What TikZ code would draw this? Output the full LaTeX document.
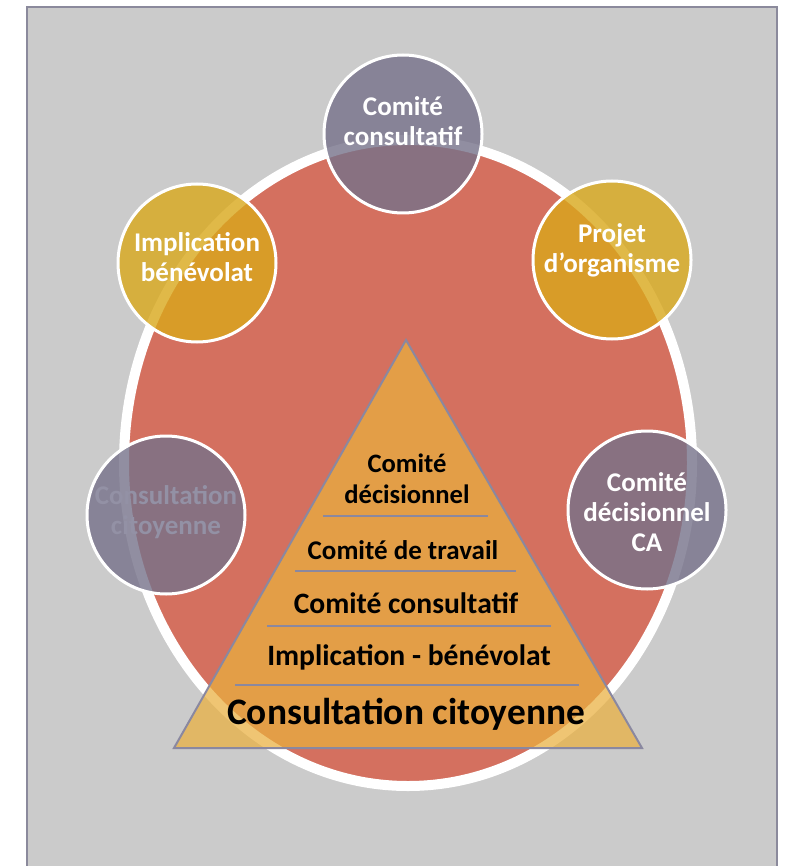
\documentclass[tikz,border=0pt]{standalone}
\usepackage{fontspec}
\setmainfont{Carlito}
\definecolor{bggray}{HTML}{CBCBCB}
\definecolor{boxline}{HTML}{8B8A9C}
\definecolor{ellred}{HTML}{D4705F}
\definecolor{triorange}{HTML}{EAB03E}
\definecolor{triline}{HTML}{8A88A0}
\definecolor{circpurple}{HTML}{76728A}
\definecolor{circyellow}{HTML}{D9A81B}
\definecolor{fainttext}{HTML}{9391A5}
\begin{document}
\begin{tikzpicture}[x=1pt,y=-1pt,
  circ/.style={circle, minimum size=158pt, inner sep=0pt, draw=white, line width=3pt, fill opacity=0.8},
  ctext/.style={align=center, text=white, font=\fontsize{27}{30}\selectfont\bfseries, inner sep=0pt},
  ttext/.style={align=center, text=black, inner sep=0pt},
  sepline/.style={draw=triline, line width=2pt}
]
\useasboundingbox (0,0) rectangle (787,866);
% background box
\fill[white] (0,0) rectangle (787,866);
\draw[fill=bggray, draw=boxline, line width=2pt] (27,7) -- (27,870) -- (777,870) -- (777,7) -- cycle;
% big ellipse
\draw[fill=ellred, draw=white, line width=10pt] (408,463) ellipse [x radius=284, y radius=323];
% pyramid
\coordinate (tl) at (174,748);
\coordinate (ta) at (406,340);
\coordinate (tr) at (642,748);
\draw[fill=triorange, fill opacity=0.72, draw=triline, line width=2pt, line join=miter] (tl) -- (ta) -- (tr) -- cycle;
\coordinate (s1a) at (323,516); \coordinate (s1b) at (488,516);
\coordinate (s2a) at (295,571); \coordinate (s2b) at (516,571);
\coordinate (s3a) at (267,626); \coordinate (s3b) at (551,626);
\coordinate (s4a) at (235,685); \coordinate (s4b) at (579,685);
\draw[sepline] (s1a) -- (s1b);
\draw[sepline] (s2a) -- (s2b);
\draw[sepline] (s3a) -- (s3b);
\draw[sepline] (s4a) -- (s4b);
\node[ttext, font=\fontsize{26.6}{31}\selectfont\bfseries] (p1) at (407,479) {Comité\\décisionnel};
\node[ttext, font=\fontsize{27}{31}\selectfont\bfseries] (p2) at (403,550) {Comité de travail};
\node[ttext, font=\fontsize{29.6}{34}\selectfont\bfseries] (p3) at (406,603) {Comité consultatif};
\node[ttext, font=\fontsize{29.6}{34}\selectfont\bfseries] (p4) at (409,657) {Implication - bénévolat};
\node[ttext, font=\fontsize{37.4}{42}\selectfont\bfseries] (p5) at (406,714) {Consultation citoyenne};
% circles
\node[circ, fill=circpurple] (c1) at (403,134) {};
\node[ctext] (c1t) at (403,121) {Comité\\consultatif};
\node[circ, fill=circyellow] (c2) at (197,263) {};
\node[ctext] (c2t) at (197,257) {Implication\\bénévolat};
\node[circ, fill=circyellow] (c3) at (612,260) {};
\node[ctext] (c3t) at (612,250) {Projet\\d’organisme};
\node[circ, fill=circpurple] (c4) at (166,515) {};
\node[ctext, text=fainttext] (c4t) at (166,512) {Consultation\\citoyenne};
\node[circ, fill=circpurple] (c5) at (647,510) {};
\node[ctext] (c5t) at (647,512) {Comité\\décisionnel\\CA};
\end{tikzpicture}
\end{document}
